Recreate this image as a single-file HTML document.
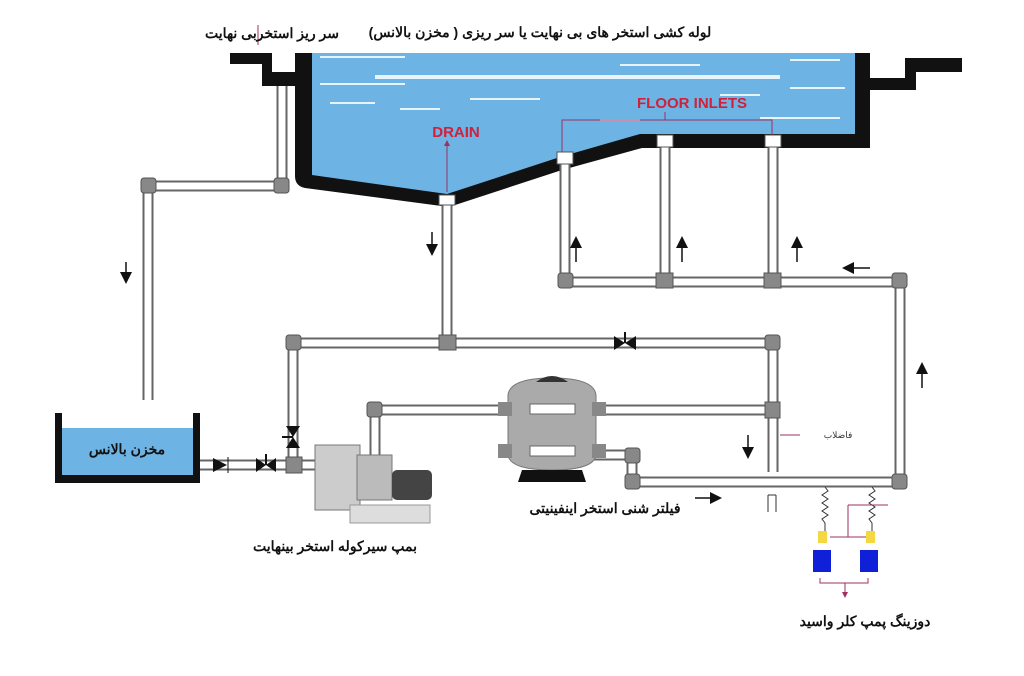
<!DOCTYPE html>
<html><head><meta charset="utf-8"><style>
html,body{margin:0;padding:0;background:#fff;}
svg{display:block;}
text{font-family:"Liberation Sans","Noto Sans CJK SC",sans-serif;}
</style></head><body>
<svg width="1024" height="676" viewBox="0 0 1024 676" xmlns="http://www.w3.org/2000/svg">
<defs>
<marker id="ar" markerWidth="8" markerHeight="8" refX="4" refY="4" orient="auto"><path d="M0,0 L8,4 L0,8 z" fill="#111"/></marker>
<marker id="ap" markerWidth="6" markerHeight="6" refX="3" refY="3" orient="auto"><path d="M0,0 L6,3 L0,6 z" fill="#a03060"/></marker>
</defs>
<rect width="1024" height="676" fill="#fff"/>
<!-- water -->
<path d="M305,53 L860,53 L860,138 L640,138 L560,160 L447,195 L305,178 Z" fill="#6db3e3"/>
<!-- pool walls -->
<path d="M295,53 L312,53 L312,175 L447,194 L560,157 L640,134 L855,134 L855,53 L870,53 L870,148 L642,148 L562,170 L449,207 L305,188 Q295,186 295,176 Z" fill="#111"/>
<!-- left ledge -->
<path d="M230,53 L272,53 L272,72 L295,72 L295,86 L262,86 L262,64 L230,64 Z" fill="#111"/>
<!-- right ledge -->
<path d="M870,78 L905,78 L905,58 L962,58 L962,72 L916,72 L916,90 L870,90 Z" fill="#111"/>
<!-- water lines -->
<g stroke="#e8f4fb" stroke-width="2">
<line x1="320" y1="57" x2="405" y2="57"/><line x1="375" y1="77" x2="780" y2="77" stroke-width="4"/>
<line x1="320" y1="84" x2="405" y2="84"/><line x1="330" y1="103" x2="375" y2="103"/>
<line x1="400" y1="109" x2="440" y2="109"/><line x1="470" y1="99" x2="540" y2="99"/>
<line x1="620" y1="65" x2="700" y2="65"/><line x1="790" y1="60" x2="840" y2="60"/>
<line x1="790" y1="88" x2="845" y2="88"/><line x1="720" y1="95" x2="760" y2="95"/>
<line x1="600" y1="120" x2="640" y2="120"/><line x1="760" y1="118" x2="840" y2="118"/>
</g>
<!-- pipes -->
<g fill="none" stroke="#666" stroke-width="11" stroke-linejoin="round">
<path d="M282,86 L282,186 L148,186 L148,400"/>
<path d="M447,205 L447,343"/>
<path d="M293,460 L293,343 L773,343 L773,472"/>
<path d="M375,460 L375,410 L773,410"/>
<path d="M565,160 L565,282 L900,282 L900,482 L632,482 L632,455 L590,455"/>
<path d="M665,145 L665,282"/><path d="M773,145 L773,282"/>
<path d="M200,465 L330,465"/>
</g>
<g fill="none" stroke="#fff" stroke-width="7" stroke-linejoin="round">
<path d="M282,86 L282,186 L148,186 L148,400"/>
<path d="M447,205 L447,343"/>
<path d="M293,460 L293,343 L773,343 L773,472"/>
<path d="M375,460 L375,410 L773,410"/>
<path d="M565,160 L565,282 L900,282 L900,482 L632,482 L632,455 L590,455"/>
<path d="M665,145 L665,282"/><path d="M773,145 L773,282"/>
<path d="M200,465 L330,465"/>
</g>
<!-- fittings -->
<g fill="#888" stroke="#555" stroke-width="1">
<rect x="274" y="178" width="15" height="15" rx="3"/><rect x="141" y="178" width="15" height="15" rx="3"/>
<rect x="439" y="335" width="17" height="15"/><rect x="286" y="335" width="15" height="15" rx="3"/>
<rect x="765" y="335" width="15" height="15" rx="3"/><rect x="765" y="402" width="15" height="16"/>
<rect x="367" y="402" width="15" height="15" rx="3"/><rect x="558" y="273" width="15" height="15" rx="3"/>
<rect x="656" y="273" width="17" height="15"/><rect x="764" y="273" width="17" height="15"/>
<rect x="892" y="273" width="15" height="15" rx="3"/><rect x="892" y="474" width="15" height="15" rx="3"/>
<rect x="625" y="474" width="15" height="15" rx="3"/><rect x="625" y="448" width="15" height="15" rx="3"/>
<rect x="286" y="457" width="16" height="16"/>
</g>
<!-- inlet heads -->
<g fill="#fff" stroke="#555"><rect x="557" y="152" width="16" height="12"/><rect x="657" y="135" width="16" height="12"/><rect x="765" y="135" width="16" height="12"/><rect x="439" y="195" width="16" height="10"/></g>
<!-- tank -->
<rect x="55" y="428" width="145" height="52" fill="#6db3e3"/>
<path d="M55,413 L62,413 L62,475 L193,475 L193,413 L200,413 L200,483 L55,483 Z" fill="#111"/>
<text x="127" y="454" font-size="14" font-weight="bold" text-anchor="middle" fill="#111">مخزن بالانس</text>
<!-- valves -->
<g fill="#111">
<path d="M213,458 L227,465 L213,472 Z"/><line x1="228" y1="457" x2="228" y2="473" stroke="#111"/>
<path d="M256,458 L266,465 L256,472 Z M276,458 L266,465 L276,472 Z"/><line x1="266" y1="465" x2="266" y2="454" stroke="#111" stroke-width="2"/>
<path d="M286,426 L293,437 L300,426 Z M286,448 L293,437 L300,448 Z"/><line x1="293" y1="437" x2="282" y2="437" stroke="#111" stroke-width="2"/>
<path d="M614,336 L625,343 L614,350 Z M636,336 L625,343 L636,350 Z"/><line x1="625" y1="343" x2="625" y2="332" stroke="#111" stroke-width="2"/>
</g>
<!-- pump -->
<rect x="315" y="445" width="45" height="65" fill="#ccc" stroke="#777"/>
<rect x="357" y="455" width="35" height="45" fill="#bbb" stroke="#777"/>
<rect x="392" y="470" width="40" height="30" rx="5" fill="#444"/>
<rect x="350" y="505" width="80" height="18" fill="#ddd" stroke="#999"/>
<!-- filter -->
<path d="M508,395 Q510,378 552,378 Q594,378 596,395 L596,455 Q594,470 552,470 Q510,470 508,455 Z" fill="#aaa" stroke="#777"/>
<path d="M536,382 Q552,370 568,382 Z" fill="#333"/>
<path d="M522,470 L582,470 L586,482 L518,482 Z" fill="#111"/>
<rect x="530" y="404" width="45" height="10" fill="#fff" stroke="#666"/>
<rect x="530" y="446" width="45" height="10" fill="#fff" stroke="#666"/>
<g fill="#888"><rect x="498" y="402" width="14" height="14"/><rect x="592" y="402" width="14" height="14"/><rect x="498" y="444" width="14" height="14"/><rect x="592" y="444" width="14" height="14"/></g>
<!-- dosing -->
<g fill="none" stroke="#333" stroke-width="1">
<path d="M825,487 l3,4 l-6,4 l6,4 l-6,4 l6,4 l-6,4 l6,4 l-6,4 l3,4 l0,20"/>
<path d="M872,487 l3,4 l-6,4 l6,4 l-6,4 l6,4 l-6,4 l6,4 l-6,4 l3,4 l0,20"/>
</g>
<g stroke="#a03060" fill="none"><path d="M848,505 L888,505 M848,505 L848,537"/><path d="M830,537 L868,537"/><path d="M820,578 L820,583 L868,583 L868,578 M845,583 L845,595" marker-end="url(#ap)"/></g>
<rect x="818" y="531" width="9" height="12" fill="#f5d742"/><rect x="866" y="531" width="9" height="12" fill="#f5d742"/>
<rect x="813" y="550" width="18" height="22" fill="#1020d8"/><rect x="860" y="550" width="18" height="22" fill="#1020d8"/>
<path d="M768,495 L768,512 M776,495 L776,512 M768,495 L776,495" stroke="#333" fill="none"/>
<!-- pink pointers -->
<g stroke="#a03060" stroke-width="1" fill="none">
<line x1="447" y1="192" x2="447" y2="143" marker-end="url(#ap)"/>
<path d="M562,152 L562,120 L772,120 L772,135 M665,120 L665,112" />
<line x1="780" y1="435" x2="800" y2="435"/><line x1="258" y1="45" x2="258" y2="25"/>
</g>
<!-- black arrows -->
<g stroke="#111" stroke-width="1.5" marker-end="url(#ar)">
<line x1="126" y1="262" x2="126" y2="278"/><line x1="432" y1="232" x2="432" y2="250"/>
<line x1="576" y1="262" x2="576" y2="242"/><line x1="682" y1="262" x2="682" y2="242"/><line x1="797" y1="262" x2="797" y2="242"/>
<line x1="870" y1="268" x2="848" y2="268"/><line x1="922" y1="388" x2="922" y2="368"/>
<line x1="748" y1="435" x2="748" y2="453"/><line x1="695" y1="498" x2="716" y2="498"/>
</g>
<!-- labels -->
<text x="540" y="37" font-size="14" font-weight="bold" text-anchor="middle" fill="#111">لوله کشی استخر های بی نهایت یا سر ریزی ( مخزن بالانس)</text>
<text x="272" y="38" font-size="14" font-weight="bold" text-anchor="middle" fill="#111">سر ریز استخربی نهایت</text>
<text x="456" y="137" font-size="15" font-weight="bold" text-anchor="middle" fill="#d0203a" font-family="Liberation Serif,serif">DRAIN</text>
<text x="692" y="108" font-size="15" font-weight="bold" text-anchor="middle" fill="#d0203a" font-family="Liberation Serif,serif">FLOOR INLETS</text>
<text x="605" y="513" font-size="14" font-weight="bold" text-anchor="middle" fill="#111">فیلتر شنی استخر اینفینیتی</text>
<text x="335" y="551" font-size="14" font-weight="bold" text-anchor="middle" fill="#111">بمپ سیرکوله استخر بینهایت</text>
<text x="865" y="626" font-size="14" font-weight="bold" text-anchor="middle" fill="#111">دوزینگ پمپ کلر واسید</text>
<text x="838" y="438" font-size="9" text-anchor="middle" fill="#333">فاضلاب</text>
</svg>
</body></html>
